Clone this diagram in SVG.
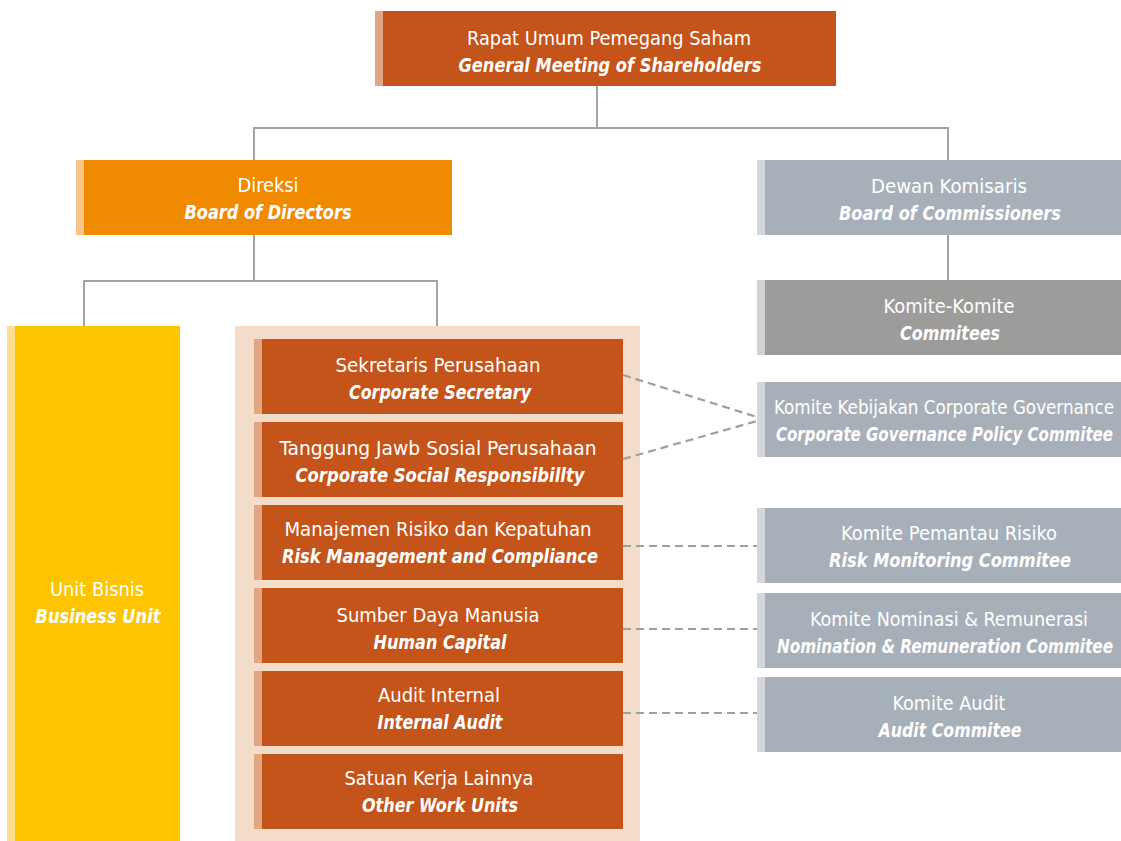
<svg xmlns="http://www.w3.org/2000/svg" width="1121" height="841" viewBox="0 0 1121 841">
  <style>
    text { font-family: "DejaVu Sans Condensed", "Liberation Sans", sans-serif; font-size: 20px; fill: #ffffff; text-anchor: middle; }
    .en { font-weight: bold; font-style: italic; font-size: 19.5px; }
    .st { text-anchor: start; }
    .line { fill: none; stroke: #a3a59d; stroke-width: 2; }
    .dash { fill: none; stroke: #9fa199; stroke-width: 2.2; stroke-dasharray: 8 5; }
    .rust { fill: #c5541a; }
    .rust-s { fill: #e3a682; }
    .orange { fill: #f08a00; }
    .orange-s { fill: #f9c588; }
    .yellow { fill: #fdc500; }
    .yellow-s { fill: #fee08f; }
    .slate { fill: #a7b0b8; }
    .slate-s { fill: #d3d7db; }
    .grey { fill: #9d9c9a; }
    .grey-s { fill: #d2d2d0; }
  </style>

  <!-- background panel holding the support units -->
  <rect id="support-panel" x="235" y="326" width="405" height="515" fill="#f4dccb"/>

  <!-- connectors -->
  <g id="connectors">
    <polyline class="line" points="597,85 597,128"/>
    <polyline class="line" points="254,160 254,128 948,128 948,160"/>
    <polyline class="line" points="254,235 254,281"/>
    <polyline class="line" points="84,326 84,281 437,281 437,326"/>
    <polyline class="line" points="948,235 948,280"/>
    <line class="dash" x1="623" y1="375" x2="757" y2="417"/>
    <line class="dash" x1="623" y1="459" x2="757" y2="421"/>
    <line class="dash" x1="623" y1="546" x2="757" y2="546"/>
    <line class="dash" x1="623" y1="629" x2="757" y2="629"/>
    <line class="dash" x1="623" y1="713" x2="757" y2="713"/>
  </g>

  <g id="gms">
    <rect class="rust" x="375" y="11" width="461" height="75"/>
    <rect class="rust-s" x="375" y="11" width="8" height="75"/>
    <text x="609" y="45" textLength="284" lengthAdjust="spacingAndGlyphs">Rapat Umum Pemegang Saham</text>
    <text class="en" x="610" y="72" textLength="303" lengthAdjust="spacingAndGlyphs">General Meeting of Shareholders</text>
  </g>

  <g id="directors">
    <rect class="orange" x="76" y="160" width="376" height="75"/>
    <rect class="orange-s" x="76" y="160" width="8" height="75"/>
    <text x="268" y="192" textLength="61" lengthAdjust="spacingAndGlyphs">Direksi</text>
    <text class="en" x="268" y="219" textLength="167" lengthAdjust="spacingAndGlyphs">Board of Directors</text>
  </g>

  <g id="commissioners">
    <rect class="slate" x="757" y="160" width="380" height="75"/>
    <rect class="slate-s" x="757" y="160" width="8" height="75"/>
    <text x="949" y="193" textLength="156" lengthAdjust="spacingAndGlyphs">Dewan Komisaris</text>
    <text class="en" x="950" y="220" textLength="222" lengthAdjust="spacingAndGlyphs">Board of Commissioners</text>
  </g>

  <g id="committees">
    <rect class="grey" x="757" y="280" width="380" height="75"/>
    <rect class="grey-s" x="757" y="280" width="8" height="75"/>
    <text x="949" y="313" textLength="131" lengthAdjust="spacingAndGlyphs">Komite-Komite</text>
    <text class="en" x="950" y="340" textLength="100" lengthAdjust="spacingAndGlyphs">Commitees</text>
  </g>

  <g id="business-unit">
    <rect class="yellow" x="7" y="326" width="173" height="515"/>
    <rect class="yellow-s" x="7" y="326" width="8" height="515"/>
    <text x="97" y="596" textLength="94" lengthAdjust="spacingAndGlyphs">Unit Bisnis</text>
    <text class="en" x="98" y="623" textLength="125" lengthAdjust="spacingAndGlyphs">Business Unit</text>
  </g>

  <g id="corp-secretary">
    <rect class="rust" x="254" y="339" width="369" height="75"/>
    <rect class="rust-s" x="254" y="339" width="8" height="75"/>
    <text x="438" y="372" textLength="205" lengthAdjust="spacingAndGlyphs">Sekretaris Perusahaan</text>
    <text class="en" x="440" y="399" textLength="182" lengthAdjust="spacingAndGlyphs">Corporate Secretary</text>
  </g>

  <g id="csr">
    <rect class="rust" x="254" y="422" width="369" height="75"/>
    <rect class="rust-s" x="254" y="422" width="8" height="75"/>
    <text x="438" y="455" textLength="317" lengthAdjust="spacingAndGlyphs">Tanggung Jawb Sosial Perusahaan</text>
    <text class="en" x="440" y="482" textLength="289" lengthAdjust="spacingAndGlyphs">Corporate Social Responsibillty</text>
  </g>

  <g id="risk-compliance">
    <rect class="rust" x="254" y="505" width="369" height="75"/>
    <rect class="rust-s" x="254" y="505" width="8" height="75"/>
    <text x="438" y="536" textLength="307" lengthAdjust="spacingAndGlyphs">Manajemen Risiko dan Kepatuhan</text>
    <text class="en" x="440" y="563" textLength="316" lengthAdjust="spacingAndGlyphs">Risk Management and Compliance</text>
  </g>

  <g id="human-capital">
    <rect class="rust" x="254" y="588" width="369" height="75"/>
    <rect class="rust-s" x="254" y="588" width="8" height="75"/>
    <text x="438" y="622" textLength="203" lengthAdjust="spacingAndGlyphs">Sumber Daya Manusia</text>
    <text class="en" x="440" y="649" textLength="133" lengthAdjust="spacingAndGlyphs">Human Capital</text>
  </g>

  <g id="internal-audit">
    <rect class="rust" x="254" y="671" width="369" height="75"/>
    <rect class="rust-s" x="254" y="671" width="8" height="75"/>
    <text x="439" y="702" textLength="122" lengthAdjust="spacingAndGlyphs">Audit Internal</text>
    <text class="en" x="440" y="729" textLength="125" lengthAdjust="spacingAndGlyphs">Internal Audit</text>
  </g>

  <g id="other-units">
    <rect class="rust" x="254" y="754" width="369" height="75"/>
    <rect class="rust-s" x="254" y="754" width="8" height="75"/>
    <text x="439" y="785" textLength="189" lengthAdjust="spacingAndGlyphs">Satuan Kerja Lainnya</text>
    <text class="en" x="440" y="812" textLength="156" lengthAdjust="spacingAndGlyphs">Other Work Units</text>
  </g>

  <g id="gcg-committee">
    <rect class="slate" x="757" y="382" width="380" height="75"/>
    <rect class="slate-s" x="757" y="382" width="8" height="75"/>
    <text class="st" x="774" y="414" textLength="340" lengthAdjust="spacingAndGlyphs">Komite Kebijakan Corporate Governance</text>
    <text class="en st" x="776" y="441" textLength="337" lengthAdjust="spacingAndGlyphs">Corporate Governance Policy Commitee</text>
  </g>

  <g id="risk-committee">
    <rect class="slate" x="757" y="508" width="380" height="75"/>
    <rect class="slate-s" x="757" y="508" width="8" height="75"/>
    <text x="949" y="540" textLength="216" lengthAdjust="spacingAndGlyphs">Komite Pemantau Risiko</text>
    <text class="en" x="950" y="567" textLength="242" lengthAdjust="spacingAndGlyphs">Risk Monitoring Commitee</text>
  </g>

  <g id="nomination-committee">
    <rect class="slate" x="757" y="593" width="380" height="75"/>
    <rect class="slate-s" x="757" y="593" width="8" height="75"/>
    <text x="949" y="626" textLength="278" lengthAdjust="spacingAndGlyphs">Komite Nominasi &amp; Remunerasi</text>
    <text class="en st" x="777" y="653" textLength="336" lengthAdjust="spacingAndGlyphs">Nomination &amp; Remuneration Commitee</text>
  </g>

  <g id="audit-committee">
    <rect class="slate" x="757" y="677" width="380" height="75"/>
    <rect class="slate-s" x="757" y="677" width="8" height="75"/>
    <text x="949" y="710" textLength="113" lengthAdjust="spacingAndGlyphs">Komite Audit</text>
    <text class="en" x="950" y="737" textLength="143" lengthAdjust="spacingAndGlyphs">Audit Commitee</text>
  </g>
</svg>
